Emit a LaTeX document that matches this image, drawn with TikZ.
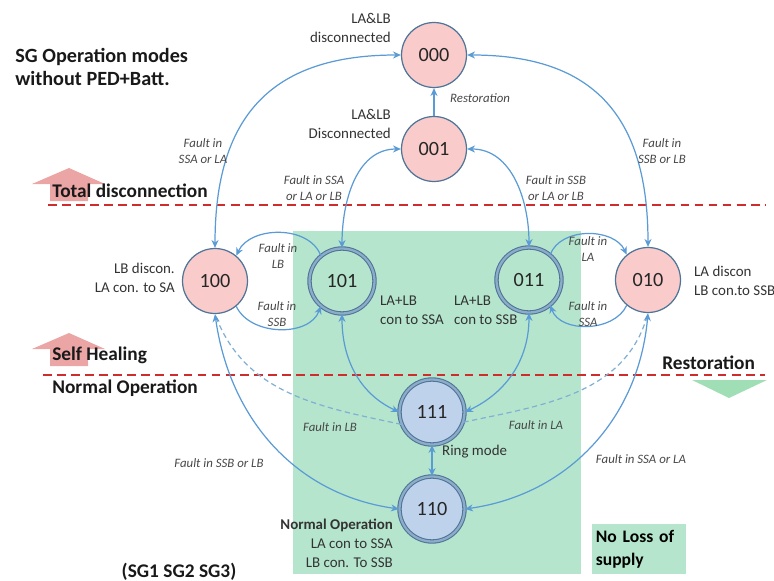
\documentclass[tikz,border=0pt]{standalone}
\usepackage{fontspec}
\setmainfont{Carlito}
\usetikzlibrary{arrows.meta,positioning}
\definecolor{cutfill}{RGB}{249,203,203}
\definecolor{livefill}{RGB}{191,210,236}
\definecolor{zonegreen}{RGB}{181,230,205}
\definecolor{rim}{RGB}{78,116,152}
\definecolor{rimlight}{RGB}{140,172,200}
\definecolor{linkblue}{RGB}{91,155,213}
\definecolor{dashblue}{RGB}{130,175,212}
\definecolor{sepred}{RGB}{205,45,45}
\definecolor{healpink}{RGB}{236,165,165}
\definecolor{restgreen}{RGB}{160,222,182}

\begin{document}
\begin{tikzpicture}[x=0.02cm,y=-0.02cm,
  modebox/.style={circle,minimum size=1.3cm,inner sep=0pt,font=\fontsize{11.5}{13}\selectfont,text=black!85},
  modeoff/.style={modebox,fill=cutfill,draw=rim,line width=0.7pt},
  modeon/.style={modebox,draw=rim,line width=0.6pt,double=rimlight,double distance=1.3pt},
  link/.style={draw=linkblue,line width=0.7pt,{Stealth[length=4.5pt,width=4pt]}-{Stealth[length=4.5pt,width=4pt]}},
  faultlink/.style={draw=dashblue,line width=0.7pt,dash pattern=on 3pt off 2pt},
  fault/.style={font=\fontsize{7.3}{8.8}\selectfont\itshape,text=black!72,align=center},
  remark/.style={font=\fontsize{8.5}{10.8}\selectfont,text=black!80},
  band/.style={font=\fontsize{11}{13}\selectfont\bfseries,text=black!90,anchor=west,inner xsep=0pt},
  sepline/.style={draw=sepred,line width=0.9pt,dash pattern=on 5pt off 3pt}]
\useasboundingbox (0,0) rectangle (774,581);
\fill[zonegreen] (293,231) rectangle (581,574);
\draw[sepline] (48,205) -- (765,205);
\draw[sepline] (43,375) -- (765,375);
\fill[healpink] (32,184) -- (69,168) -- (105,184) -- (88,184) -- (88,201) -- (50,201) -- (50,184) -- cycle;
\fill[healpink] (32,349) -- (69,333) -- (105,349) -- (88,349) -- (88,366) -- (50,366) -- (50,349) -- cycle;
\fill[restgreen] (692,380) -- (767,380) -- (729,398) -- cycle;

\node[band,align=left,font=\fontsize{11.5}{13.5}\selectfont\bfseries] (title) at (15,67) {SG Operation modes\\without PED+Batt.};
\node[band] (total) at (52,191) {Total disconnection};
\node[band] (heal) at (52,355) {Self Healing};
\node[band] (normal) at (52,388) {Normal Operation};
\node[band] (restore) at (662,363) {Restoration};
\node[band,anchor=center] (sgs) at (179,572) {(SG1 SG2 SG3)};
\node[fill=zonegreen,align=left,anchor=north west,text width=1.74cm,inner xsep=0.07cm,minimum height=0.92cm,font=\fontsize{10}{13}\selectfont\bfseries] (noloss) at (592,524) {No Loss of\\supply};

\node[modeoff] (n000) at (434,55) {000};
\node[modeoff] (n001) at (434,149) {001};
\node[modeoff] (n100) at (215,281) {100};
\node[modeon,fill=zonegreen] (n101) at (342,281) {101};
\node[modeon,fill=zonegreen] (n011) at (529,280) {011};
\node[modeoff] (n010) at (648,280) {010};
\node[modeon,fill=livefill] (n111) at (432,412) {111};
\node[modeon,fill=livefill] (n110) at (432,509) {110};

\node[remark,align=right,anchor=east] (d000) at (397,28) {LA\&LB\\disconnected};
\node[remark,align=right,anchor=east] (d001) at (397,124) {LA\&LB\\Disconnected};
\node[remark,align=right,anchor=east] (d100) at (181,278) {LB discon.\\LA con. to SA};
\node[remark,align=left,anchor=west] (d101) at (374,310) {LA+LB\\con to SSA};
\node[remark,align=left,anchor=west] (d011) at (448,310) {LA+LB\\con to SSB};
\node[remark,align=left,anchor=west] (d010) at (688,281) {LA discon\\LB con.to SSB};
\node[remark,align=right,anchor=east] (d110) at (399,543) {\textbf{Normal Operation}\\LA con to SSA\\LB con. To SSB};
\node[remark,anchor=west] (ring) at (436,452) {Ring mode};

\draw[link] (n100.north) to[out=90,in=180,looseness=1.25] (n000.west);
\draw[link] (n010.north) to[out=90,in=0,looseness=1.25] (n000.east);
\draw[link] (n101.north) to[out=90,in=180] (n001.west);
\draw[link] (n011.north) to[out=90,in=0] (n001.east);
\draw[link,{Stealth[length=4.5pt,width=4pt]}-] (n000) -- (n001);
\draw[link,-{Stealth[length=4.5pt,width=4pt]}] (n101.130) to[out=110,in=65] (n100.50);
\draw[link,-{Stealth[length=4.5pt,width=4pt]}] (n100.-50) to[out=-65,in=-110] (n101.-130);
\draw[link,-{Stealth[length=4.5pt,width=4pt]}] (n011.50) to[out=70,in=115] (n010.130);
\draw[link,-{Stealth[length=4.5pt,width=4pt]}] (n010.-130) to[out=-115,in=-70] (n011.-50);
\draw[link] (n101.south) to[out=-90,in=155] (n111.west);
\draw[link] (n011.south) to[out=-90,in=25] (n111.east);
\draw[link] (n111) -- (n110);
\draw[faultlink] (n111.202) to[out=168,in=-70] (n100.south);
\draw[faultlink] (n111.-18) to[out=12,in=-105] (n010.south);
\draw[link] (n100.south) to[out=-82,in=172] (n110.west);
\draw[link] (n010.south) to[out=-95,in=8] (n110.east);

\node[fault] (f1) at (203,151) {Fault in\\SSA or LA};
\node[fault] (f2) at (314,188) {Fault in SSA\\or LA or LB};
\node[fault] (f3) at (556,188) {Fault in SSB\\or LA or LB};
\node[fault] (f4) at (662,151) {Fault in\\SSB or LB};
\node[fault,anchor=west] (f5) at (444,98) {Restoration};
\node[fault] (f6) at (278,256) {Fault in\\LB};
\node[fault] (f7) at (277,314) {Fault in\\SSB};
\node[fault] (f8) at (588,249) {Fault in\\LA};
\node[fault] (f9) at (588,314) {Fault in\\SSA};
\node[fault] (f10) at (330,427) {Fault in LB};
\node[fault] (f11) at (536,425) {Fault in LA};
\node[fault] (f12) at (219,463) {Fault in SSB or LB};
\node[fault] (f13) at (641,459) {Fault in SSA or LA};
\end{tikzpicture}
\end{document}
